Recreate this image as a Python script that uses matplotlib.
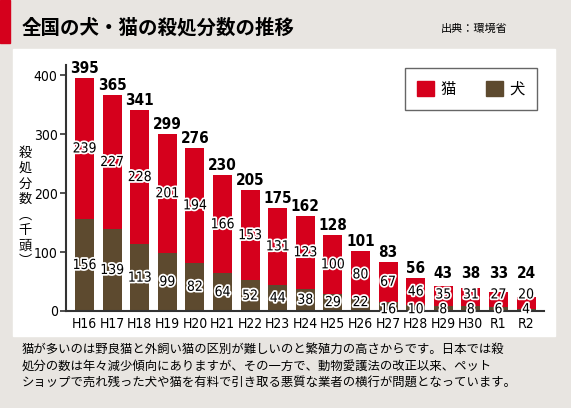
import matplotlib.pyplot as plt
import matplotlib.patheffects as pe
from matplotlib.patches import Rectangle, Patch
import numpy as np

plt.rcParams['font.family'] = ['Noto Sans CJK JP', 'DejaVu Sans']

years = ['H16', 'H17', 'H18', 'H19', 'H20', 'H21', 'H22', 'H23', 'H24',
         'H25', 'H26', 'H27', 'H28', 'H29', 'H30', 'R1', 'R2']
dogs = [156, 139, 113, 99, 82, 64, 52, 44, 38, 29, 22, 16, 10, 8, 8, 6, 4]
cats = [239, 227, 228, 201, 194, 166, 153, 131, 123, 100, 80, 67, 46, 35, 31, 27, 20]
totals = [395, 365, 341, 299, 276, 230, 205, 175, 162, 128, 101, 83, 56, 43, 38, 33, 24]

red = '#d5001c'
brown = '#5d4a2f'
bg = '#e8e5e1'
num_font = dict(family='DejaVu Sans', fontstretch='condensed')

fig = plt.figure(figsize=(5.71, 4.08), dpi=100, facecolor=bg)

# red marker and white panel
fig.patches.append(Rectangle((0, 1 - 43 / 408), 10 / 571, 43 / 408,
                             transform=fig.transFigure, color='#d5001c', zorder=0))
fig.patches.append(Rectangle((13 / 571, 1 - 336 / 408), 542 / 571, 287 / 408,
                             transform=fig.transFigure, color='white', zorder=0))

fig.text(22 / 571, 1 - 28 / 408, '全国の犬・猫の殺処分数の推移', fontsize=14,
         fontweight='bold', va='center', ha='left')
fig.text(508 / 571, 1 - 29 / 408, '出典：環境省', fontsize=8, va='center', ha='right')

footer = ['猫が多いのは野良猫と外飼い猫の区別が難しいのと繁殖力の高さからです。日本では殺',
          '処分の数は年々減少傾向にありますが、その一方で、動物愛護法の改正以来、ペット',
          'ショップで売れ残った犬や猫を有料で引き取る悪質な業者の横行が問題となっています。']
for i, line in enumerate(footer):
    fig.text(22 / 571, 1 - (349 + 17 * i) / 408, line, fontsize=8.9, va='center', ha='left')

ax = fig.add_axes([66 / 571, 1 - 311 / 408, 478 / 571, 246 / 408])
ax.set_zorder(2)
ax.set_facecolor('none')
x = np.arange(len(years))
w = 0.69
ax.bar(x, dogs, w, color=brown, zorder=2)
ax.bar(x, cats, w, bottom=dogs, color=red, zorder=2)

ax.set_xlim(-0.67, 16.65)
ax.set_ylim(0, 417)
ax.set_yticks([0, 100, 200, 300, 400])
ax.set_xticks(x)
ax.set_xticklabels(years)
for lab in ax.get_xticklabels() + ax.get_yticklabels():
    lab.set_fontfamily('DejaVu Sans')
    lab.set_fontstretch('condensed')
    lab.set_fontsize(10)
ax.tick_params(axis='x', length=0, pad=4)
ax.tick_params(axis='y', length=4, width=1.2, color='#333333', pad=2)
for s in ['top', 'right']:
    ax.spines[s].set_visible(False)
for s in ['left', 'bottom']:
    ax.spines[s].set_color('#333333')
    ax.spines[s].set_linewidth(1.5)

halo = [pe.withStroke(linewidth=2.5, foreground='white')]
for i in range(len(years)):
    d, c, t = dogs[i], cats[i], totals[i]
    cy = max(d + c / 2, 28)
    ax.text(i, cy, str(c), ha='center', va='center', fontsize=10,
            path_effects=halo, zorder=4, **num_font)
    dy = max(d / 2, 15) if d >= 20 else 3
    ax.text(i, dy, str(d), ha='center', va='center', fontsize=10,
            path_effects=halo, zorder=4, **num_font)
    ax.text(i, max(d + c + 16, 64), str(t), ha='center', va='center',
            fontsize=11, fontweight='bold', zorder=4, **num_font)

ax.legend(handles=[Patch(color=red, label='猫'), Patch(color=brown, label='犬')],
          loc='center', bbox_to_anchor=(0.847, 0.902), ncol=2, fontsize=11,
          frameon=True, fancybox=False, edgecolor='#666666', framealpha=1,
          handlelength=1.1, handleheight=1.1, handletextpad=0.4,
          columnspacing=2.0, borderpad=0.8)

# vertical y label
ylab = ['殺', '処', '分', '数', '︵', '千', '頭', '︶']
for i, ch in enumerate(ylab):
    fig.text(25 / 571, 1 - (153 + 15.5 * i) / 408, ch, fontsize=9.5,
             ha='center', va='center')

fig.savefig('out.png', dpi=100, facecolor=bg)
